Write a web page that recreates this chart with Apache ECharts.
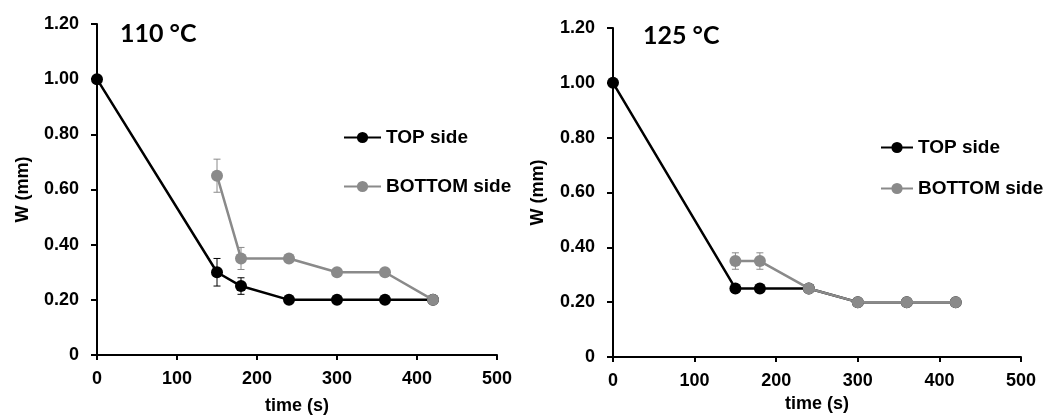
<!DOCTYPE html>
<html>
<head>
<meta charset="utf-8">
<script src="https://cdn.jsdelivr.net/npm/echarts@6/dist/echarts.min.js"></script>
<style>
  html, body { margin: 0; padding: 0; background: #fff; }
  #chart { width: 1046px; height: 415px; }
</style>
</head>
<body>
<div id="chart"></div>
<script>
// time points (s)
const timeTop = [0, 150, 180, 240, 300, 360, 420];
const timeBottom = [150, 180, 240, 300, 360, 420];

// 110 °C
const top110 = [1.00, 0.30, 0.25, 0.20, 0.20, 0.20, 0.20];
const bottom110 = [0.65, 0.35, 0.35, 0.30, 0.30, 0.20];
const topErr110 = [0, 0.05, 0.03, 0, 0, 0, 0];
const bottomErr110 = [0.06, 0.04, 0, 0, 0, 0];

// 125 °C
const top125 = [1.00, 0.25, 0.25, 0.25, 0.20, 0.20, 0.20];
const bottom125 = [0.35, 0.35, 0.25, 0.20, 0.20, 0.20];
const topErr125 = [0, 0, 0, 0, 0, 0, 0];
const bottomErr125 = [0.03, 0.03, 0, 0, 0, 0];

const titles = ['110 °C', '125 °C'];
const seriesNames = ['TOP side', 'BOTTOM side'];

const BLACK = '#000000';
const GREY = '#8a8a8a';
const boldFont = { fontFamily: 'Liberation Sans', fontWeight: 'bold', fontSize: 18, color: '#000' };

function pairs(xs, ys) {
  return xs.map((x, i) => [x, ys[i]]);
}
function errPairs(xs, ys, es) {
  return xs.map((x, i) => [x, ys[i], es[i]]).filter(d => d[2] > 0);
}

// vertical error bar with small caps
function errorBar(color) {
  return function (params, api) {
    const x = api.value(0), y = api.value(1), e = api.value(2);
    const hi = api.coord([x, y + e]);
    const lo = api.coord([x, y - e]);
    const w = 3.5;
    const style = { stroke: color, lineWidth: 1 };
    return {
      type: 'group',
      children: [
        { type: 'line', shape: { x1: hi[0], y1: hi[1], x2: lo[0], y2: lo[1] }, style },
        { type: 'line', shape: { x1: hi[0] - w, y1: hi[1], x2: hi[0] + w, y2: hi[1] }, style },
        { type: 'line', shape: { x1: lo[0] - w, y1: lo[1], x2: lo[0] + w, y2: lo[1] }, style }
      ]
    };
  };
}

const grids = [
  { left: 97, top: 24, width: 400, height: 331, outerBoundsMode: 'none', containLabel: false },
  { left: 613, top: 28, width: 408, height: 329, outerBoundsMode: 'none', containLabel: false }
];
const xNameGap = [42, 38];
const yNameGap = [65, 66];

const xAxes = grids.map((g, i) => ({
  type: 'value', gridIndex: i, min: 0, max: 500, interval: 100,
  name: 'time (s)', nameLocation: 'middle', nameGap: xNameGap[i],
  nameTextStyle: boldFont,
  axisLine: { show: true, lineStyle: { color: '#000', width: 2 } },
  axisTick: { show: true, length: 5, lineStyle: { color: '#000', width: 2 } },
  axisLabel: Object.assign({ margin: 15 }, boldFont),
  splitLine: { show: false }
}));

const yAxes = grids.map((g, i) => ({
  type: 'value', gridIndex: i, min: 0, max: 1.2, interval: 0.2,
  name: 'W (mm)', nameLocation: 'middle', nameGap: yNameGap[i], nameRotate: 90,
  nameTextStyle: boldFont,
  axisLine: { show: true, lineStyle: { color: '#000', width: 2 } },
  axisTick: { show: true, length: 6, lineStyle: { color: '#000', width: 2 } },
  axisLabel: Object.assign({
    margin: 18,
    formatter: v => (v === 0 ? '0' : v.toFixed(2))
  }, boldFont),
  splitLine: { show: false }
}));

function lineSeries(name, idx, data, color) {
  return {
    name, type: 'line', xAxisIndex: idx, yAxisIndex: idx, data,
    symbol: 'circle', symbolSize: 12, z: name === 'BOTTOM side' ? 4 : 3,
    itemStyle: { color },
    lineStyle: { color, width: 2.5 },
    animation: false
  };
}
function errSeries(idx, data, color) {
  return {
    name: 'err', type: 'custom', xAxisIndex: idx, yAxisIndex: idx, data,
    renderItem: errorBar(color), z: 2, animation: false,
    encode: { x: 0, y: 1 }
  };
}

const sets = [
  { top: top110, bottom: bottom110, topErr: topErr110, bottomErr: bottomErr110 },
  { top: top125, bottom: bottom125, topErr: topErr125, bottomErr: bottomErr125 }
];

const series = [];
sets.forEach((s, i) => {
  series.push(errSeries(i, errPairs(timeTop, s.top, s.topErr), BLACK));
  series.push(errSeries(i, errPairs(timeBottom, s.bottom, s.bottomErr), GREY));
  series.push(lineSeries(seriesNames[0], i, pairs(timeTop, s.top), BLACK));
  series.push(lineSeries(seriesNames[1], i, pairs(timeBottom, s.bottom), GREY));
});

const legendText = { fontFamily: 'Liberation Sans', fontWeight: 'bold', fontSize: 19, color: '#000' };
const titleText = { fontFamily: 'Lato', fontWeight: 'bold', fontSize: 25, color: '#000' };

const option = {
  backgroundColor: '#fff',
  animation: false,
  title: [
    { text: titles[0], left: 120, top: 21, padding: 0, textStyle: titleText },
    { text: titles[1], left: 643, top: 23, padding: 0, textStyle: titleText }
  ],
  grid: grids,
  xAxis: xAxes,
  yAxis: yAxes,
  legend: [
    { data: seriesNames, orient: 'vertical', left: 343, top: 128, padding: 0, itemGap: 30, itemWidth: 37, itemHeight: 14, textStyle: legendText, selectedMode: false },
    { data: seriesNames, orient: 'vertical', left: 880, top: 138, padding: 0, itemGap: 22, itemWidth: 32, itemHeight: 14, textStyle: legendText, selectedMode: false }
  ],
  series
};

const chart = echarts.init(document.getElementById('chart'));
chart.setOption(option);
</script>
</body>
</html>
